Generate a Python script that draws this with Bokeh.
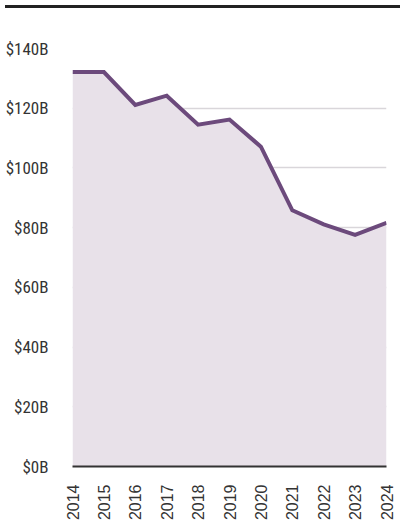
from bokeh.plotting import figure
from bokeh.models import Div, FixedTicker, ColumnDataSource
from bokeh.layouts import column
from bokeh.embed import file_html
from bokeh.resources import INLINE
import math

years = [2014, 2015, 2016, 2017, 2018, 2019, 2020, 2021, 2022, 2023, 2024]
values = [132.1, 132.1, 121.1, 124.2, 114.5, 116.2, 107.1, 85.8, 81.1, 77.6, 81.6]
y_ticks = [0, 20, 40, 60, 80, 100, 120, 140]
y_labels = {t: f"${t}B" for t in y_ticks}

src = ColumnDataSource(data=dict(x=years, y=values, z=[0] * len(years)))

p = figure(width=395, height=510, output_backend="svg", toolbar_location=None,
           x_range=(2014, 2024), y_range=(0, 140),
           min_border_left=72, min_border_right=9, min_border_top=35, min_border_bottom=50)
p.outline_line_color = None
p.background_fill_color = "white"

p.varea(x="x", y1="z", y2="y", source=src, fill_color="#e8e1e9")
p.line(x="x", y="y", source=src, line_color="#6c4a7c", line_width=4, line_join="miter")

p.xgrid.grid_line_color = None
p.ygrid.grid_line_color = "#d9d6da"
p.ygrid.grid_line_width = 1.5
p.ygrid.ticker = FixedTicker(ticks=y_ticks[1:])

p.yaxis.ticker = FixedTicker(ticks=y_ticks)
p.yaxis.major_label_overrides = y_labels
p.yaxis.axis_line_color = None
p.yaxis.major_tick_line_color = None
p.yaxis.minor_tick_line_color = None
p.yaxis.major_label_standoff = 18
p.yaxis.major_label_text_font = "Roboto Condensed"
p.yaxis.major_label_text_font_size = "17px"
p.yaxis.major_label_text_color = "#333333"

p.xaxis.ticker = FixedTicker(ticks=years)
p.xaxis.axis_line_color = "#333333"
p.xaxis.axis_line_width = 2
p.xaxis.major_tick_line_color = None
p.xaxis.minor_tick_line_color = None
p.xaxis.major_label_orientation = math.pi / 2
p.xaxis.major_label_standoff = 12
p.xaxis.major_label_text_font = "Liberation Sans"
p.xaxis.major_label_text_font_size = "16px"
p.xaxis.major_label_text_color = "#333333"

bar = Div(text="", width=395, height=3,
          styles={"background-color": "#222222", "width": "395px", "height": "3px"})

layout = column(bar, p, spacing=0)

open("out.html", "w").write(file_html(layout, INLINE))
